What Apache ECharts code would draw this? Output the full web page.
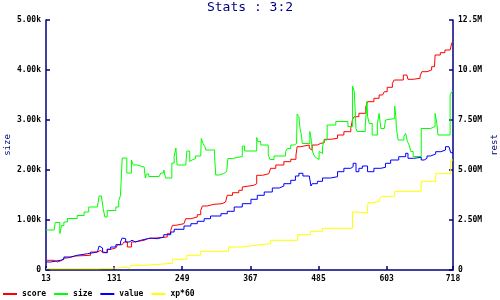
<!DOCTYPE html>
<html><head><meta charset="utf-8">
<script src="https://cdn.jsdelivr.net/npm/echarts@6/dist/echarts.min.js"></script>
<style>html,body{margin:0;padding:0;background:#fff}#c{width:500px;height:300px}</style>
</head><body><div id="c"></div>
<script>
var xTicks = [13, 718, 118];
var sizeX = [13,27,29,37,40,44,50,67,79,87,102,105,109,112,115,119,134,139,142,145,153,161,164,171,183,185,187,191,209,212,217,220,231,235,238,239,240,255,257,262,264,266,272,281,282,285,288,290,305,307,313,321,326,328,336,353,357,378,380,385,398,401,408,428,431,437,443,447,448,451,453,455,457,470,473,474,477,480,483,486,489,492,495,500,515,536,544,547,550,552,566,569,570,573,578,587,590,593,599,601,604,617,619,620,623,633,636,639,642,645,649,663,679,687,690,692,713,716,718];
var sizeY = [800,830,950,730,890,960,1030,1090,1160,1260,1290,1480,1460,1230,1060,1190,1260,1390,1490,2240,1940,2200,2100,2060,2040,1840,1920,1870,1900,1940,2000,1840,2140,2270,2440,2270,2100,2120,2380,2170,2200,2230,2280,2300,2630,2530,2470,2400,2270,1900,1930,1970,2000,2230,2270,2480,2380,2650,2570,2500,2300,2210,2280,2370,2430,2500,2530,2570,3120,3070,2830,2730,2530,2770,2570,2400,2300,2250,2210,2370,2330,2470,2600,2900,2970,2870,3680,3570,2830,2770,2870,3370,3070,2930,2700,2930,3130,2830,2870,3000,3030,3280,3070,2830,2600,2670,2730,2570,2500,2370,2270,2830,2870,3130,2930,2700,3500,3570,3570];
var scoreX = [13,27,33,41,44,50,64,90,102,108,111,119,125,134,137,145,148,154,161,165,183,189,223,229,232,238,252,255,264,275,281,284,292,304,318,324,327,336,347,353,356,373,378,388,399,402,411,425,437,446,448,454,469,472,474,483,489,495,506,518,529,541,544,547,555,567,570,581,590,596,599,604,613,616,632,638,640,649,661,664,673,681,686,687,696,704,713,716,718];
var scoreY = [485000,400000,485000,535000,600000,700000,735000,900000,985000,1035000,865000,1035000,1100000,1200000,1265000,1315000,1400000,1150000,1400000,1485000,1565000,1650000,1815000,1985000,2235000,2315000,2365000,2565000,2650000,2765000,2985000,3200000,3285000,3315000,3400000,3435000,3735000,3865000,3985000,4150000,4235000,4315000,4735000,4815000,4900000,5085000,5250000,5415000,5535000,5750000,6165000,6250000,6085000,6000000,6250000,6335000,6365000,6535000,6585000,6750000,6915000,7085000,7535000,7665000,7835000,8165000,8415000,8585000,8750000,8835000,8915000,9135000,9335000,9500000,9750000,9800000,9535000,9585000,9700000,9915000,10000000,10165000,10250000,10750000,10865000,11000000,11085000,11365000,11415000];
var valueX = [13,21,38,44,56,67,85,102,105,108,111,113,119,125,134,142,145,148,151,157,162,168,177,189,194,206,217,229,235,252,264,275,287,298,316,327,339,353,368,379,391,405,417,425,437,445,451,458,469,472,474,483,492,506,518,529,541,545,550,555,561,570,581,593,601,610,624,636,640,650,663,668,673,679,688,697,705,711,714,718];
var valueY = [400000,485000,535000,650000,735000,815000,900000,985000,1200000,1100000,900000,865000,1035000,1150000,1265000,1400000,1600000,1565000,1400000,1485000,1400000,1485000,1565000,1600000,1565000,1650000,1765000,1900000,2035000,2200000,2315000,2435000,2565000,2700000,2815000,2935000,3150000,3315000,3535000,3735000,3900000,4100000,4200000,4315000,4485000,4700000,4835000,4700000,4735000,4200000,4315000,4435000,4600000,4665000,4915000,5085000,5165000,5335000,4915000,5085000,5200000,4915000,5085000,5135000,5335000,5500000,5665000,5835000,5585000,5635000,5500000,5585000,5700000,5800000,5915000,6000000,6165000,6200000,5865000,5865000];
var xpX = [13,102,137,151,157,160,186,232,257,281,329,353,376,402,449,471,492,544,550,570,571,578,591,594,617,663,688,714,718];
var xpY = [65000,100000,150000,65000,100000,235000,335000,535000,735000,935000,1150000,1235000,1315000,1485000,1765000,1935000,2085000,2900000,2850000,3100000,3365000,3435000,3565000,3685000,3935000,4435000,4815000,5500000,5500000];
var sizeTicks = [0, 5000, 1000];
var restTicks = [0, 12500000, 2500000];

function pairs(xs, ys){ return xs.map(function(x,i){ return [x, ys[i]]; }); }
var NAVY = '#000080';
var MONO = 'DejaVu Sans Mono';
function fmt(v, unit, suffix){ if (v === 0) return '0'; return (v/unit).toPrecision(3) + suffix; }
var lbl = {color:'#000', fontFamily:MONO, fontSize:8, fontWeight:'bold'};
function yAx(ticks, name, pos, unit, suf, gap){
  return {type:'value', position:pos, min:ticks[0], max:ticks[1], interval:ticks[2],
    name:name, nameLocation:'middle', nameRotate:90, nameGap:gap, nameMoveOverlap:false,
    nameTextStyle:{color:NAVY, fontFamily:MONO, fontSize:9},
    axisLine:{show:true, lineStyle:{color:NAVY, width:1.5}},
    axisTick:{show:true, inside:true, length:4, lineStyle:{color:NAVY, width:1.5}},
    axisLabel:Object.assign({margin:5, formatter:function(v){return fmt(v,unit,suf);}}, lbl),
    splitLine:{show:false}};
}
function ser(name, xs, ys, color, yi){
  return {name:name, type:'line', step:'end', yAxisIndex:yi, data:pairs(xs,ys), showSymbol:false, symbol:'none',
    lineStyle:{color:color, width:1}, itemStyle:{color:color}, animation:false};
}
var chart = echarts.init(document.getElementById('c'), null, {renderer:'canvas'});
chart.setOption({
  animation:false,
  backgroundColor:'#fff',
  title:{text:'Stats : 3:2', left:'center', top:1, padding:0, textStyle:{color:NAVY, fontFamily:MONO, fontSize:13, fontWeight:'normal'}},
  legend:{data:['score','size','value','xp*60'], left:3, top:290, padding:0, icon:'rect', itemWidth:14, itemHeight:2, itemGap:8,
    textStyle:{color:'#000', fontFamily:MONO, fontSize:8, fontWeight:'bold'}},
  grid:{left:46, right:47, top:20, bottom:30, containLabel:false, outerBoundsMode:'none'},
  xAxis:{type:'value', min:xTicks[0], max:xTicks[1], interval:xTicks[2],
    axisLine:{show:true, lineStyle:{color:NAVY, width:1.5}},
    axisTick:{show:true, inside:true, length:4, lineStyle:{color:NAVY, width:1.5}},
    axisLabel:Object.assign({margin:5, showMaxLabel:true, showMinLabel:true}, lbl),
    splitLine:{show:false}},
  yAxis:[yAx(sizeTicks,'size','left',1000,'k',34), yAx(restTicks,'rest','right',1000000,'M',37)],
  series:[
    ser('score', scoreX, scoreY, '#ff0000', 1),
    ser('size', sizeX, sizeY, '#00ff00', 0),
    ser('value', valueX, valueY, '#0000ff', 1),
    ser('xp*60', xpX, xpY, '#ffff00', 1)
  ]
});
</script></body></html>
